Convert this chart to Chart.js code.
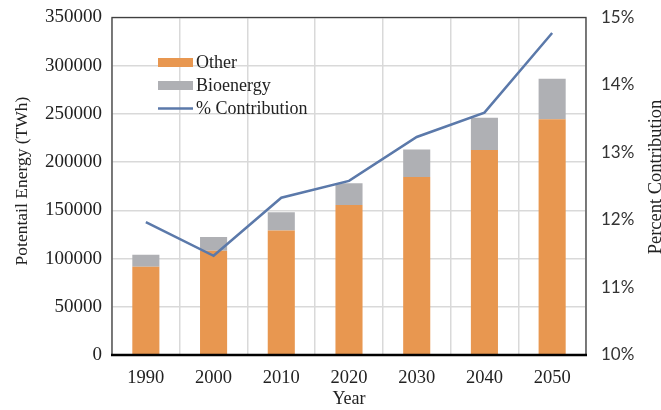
<!DOCTYPE html>
<html>
<head>
<meta charset="utf-8">
<script src="https://cdn.jsdelivr.net/npm/chart.js@4"></script>
<style>
  html, body { margin: 0; padding: 0; background: #fff; }
  #wrap { width: 661px; height: 410px; }
</style>
</head>
<body>
<div id="wrap"><canvas id="grafico"></canvas></div>
<script>
// dados
const years = ["1990", "2000", "2010", "2020", "2030", "2040", "2050"];
const other = [91500, 108000, 129000, 155500, 184500, 212500, 244500];
const bioenergy = [12500, 14500, 19000, 22500, 28500, 33500, 42000];
const contribution = [11.97, 11.47, 12.33, 12.58, 13.23, 13.59, 14.77];

const serif = "'Liberation Serif', 'Times New Roman', serif";

// moldura em volta da área do gráfico
const frame = {
  id: "frame",
  afterDatasetsDraw(chart) {
    const { ctx, chartArea: a } = chart;
    ctx.save();
    ctx.strokeStyle = "#404040";
    ctx.lineWidth = 1.3;
    ctx.strokeRect(a.left, a.top, a.right - a.left, a.bottom - a.top);
    ctx.strokeStyle = "#000";
    ctx.lineWidth = 2.5;
    ctx.beginPath();
    ctx.moveTo(a.left - 1, a.bottom);
    ctx.lineTo(a.right + 1, a.bottom);
    ctx.stroke();
    ctx.restore();
  },
};

// legenda dentro da área do gráfico + títulos dos eixos verticais
const insideLegend = {
  id: "insideLegend",
  afterDraw(chart) {
    const { ctx, chartArea: a } = chart;
    const x = a.left + 46;
    let y = a.top + 45;
    ctx.save();
    ctx.font = "18px " + serif;
    ctx.textBaseline = "middle";
    chart.data.datasets.forEach((ds) => {
      if (ds.type === "line") {
        ctx.strokeStyle = ds.borderColor;
        ctx.lineWidth = 2.5;
        ctx.beginPath();
        ctx.moveTo(x, y);
        ctx.lineTo(x + 35, y);
        ctx.stroke();
      } else {
        ctx.fillStyle = ds.backgroundColor;
        ctx.fillRect(x, y - 4.5, 35, 9);
      }
      ctx.fillStyle = "#222";
      ctx.fillText(ds.label, x + 38, y + 1);
      y += 23;
    });
    ctx.textAlign = "center";
    ctx.textBaseline = "alphabetic";
    // título do eixo y (esquerda)
    ctx.save();
    ctx.font = "17.5px " + serif;
    ctx.translate(26.5, 181);
    ctx.rotate(-Math.PI / 2);
    ctx.fillText("Potentail Energy (TWh)", 0, 0);
    ctx.restore();
    // título do eixo y1 (direita)
    ctx.save();
    ctx.font = "18.5px " + serif;
    ctx.translate(660.5, 177);
    ctx.rotate(-Math.PI / 2);
    ctx.fillText("Percent Contribution", 0, 0);
    ctx.restore();
    ctx.restore();
  },
};

const data = {
  labels: years,
  datasets: [
    {
      label: "Other",
      data: other,
      backgroundColor: "rgb(232, 151, 80)",
      stack: "s",
      yAxisID: "y",
      order: 1,
    },
    {
      label: "Bioenergy",
      data: bioenergy,
      backgroundColor: "rgb(175, 176, 180)",
      stack: "s",
      yAxisID: "y",
      order: 1,
    },
    {
      type: "line",
      label: "% Contribution",
      data: contribution,
      borderColor: "rgb(91, 121, 170)",
      borderWidth: 2.5,
      pointRadius: 0,
      tension: 0,
      yAxisID: "y1",
      order: 0,
    },
  ],
};

const config = {
  type: "bar",
  data: data,
  options: {
    responsive: true,
    maintainAspectRatio: false,
    animation: false,
    layout: { padding: { top: 17.5, left: 0, right: 0, bottom: 0 } },
    datasets: { bar: { categoryPercentage: 1, barPercentage: 0.4 } },
    plugins: {
      legend: { display: false },
      tooltip: { enabled: false },
    },
    scales: {
      x: {
        stacked: true,
        grid: { color: "#d9d9d9", lineWidth: 1.5, drawTicks: false, offset: true },
        border: { display: false },
        ticks: { color: "#222", font: { family: serif, size: 18.5 }, padding: 12 },
        title: {
          display: true,
          text: "Year",
          color: "#222",
          font: { family: serif, size: 18 },
          padding: { top: 0, bottom: 0 },
        },
        afterFit(s) { s.height = 55; },
      },
      y: {
        stacked: true,
        position: "left",
        min: 0,
        max: 350000,
        grid: { color: "#d9d9d9", lineWidth: 1.5, drawTicks: false },
        border: { display: false },
        ticks: {
          stepSize: 50000,
          color: "#222",
          font: { family: serif, size: 19 },
          padding: 10,
          callback: (v) => String(v),
        },
        afterFit(s) {
          s.width = 112;
          s.paddingTop = 0;
          s.paddingBottom = 0;
        },
      },
      y1: {
        position: "right",
        min: 10,
        max: 15,
        grid: { display: false, drawTicks: false },
        border: { display: false },
        ticks: {
          stepSize: 1,
          color: "#333",
          font: { family: "Lato, 'Open Sans', sans-serif", size: 17 },
          padding: 15,
          callback: (v) => v + "%",
        },
        afterFit(s) {
          s.width = 75;
          s.paddingTop = 0;
          s.paddingBottom = 0;
        },
      },
    },
  },
  plugins: [frame, insideLegend],
};

const grafico = new Chart(document.getElementById("grafico"), config);
</script>
</body>
</html>
